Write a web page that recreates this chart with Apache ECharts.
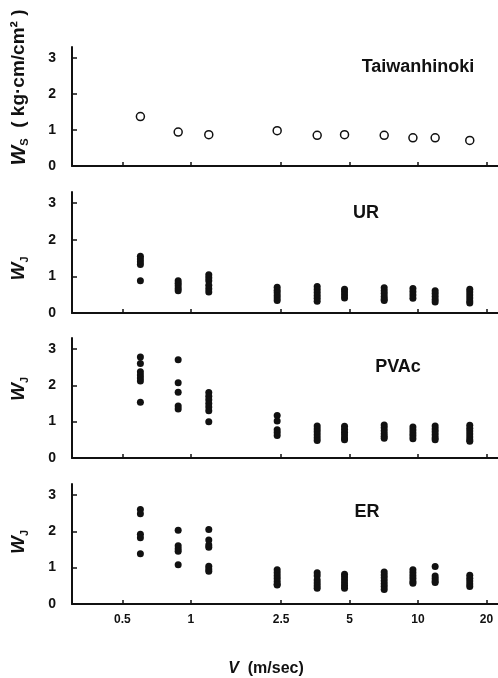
<!DOCTYPE html>
<html>
<head>
<meta charset="utf-8">
<script src="https://cdn.jsdelivr.net/npm/echarts@6/dist/echarts.min.js"></script>
<style>
  html, body { margin: 0; padding: 0; background: #fff; }
  #chart { width: 498px; height: 678px; }
</style>
</head>
<body>
<div id="chart"></div>
<script>
// speeds (m/sec)
const speeds = [0.6, 0.88, 1.2, 2.4, 3.6, 4.75, 7.1, 9.5, 11.9, 16.9];
const xTicks = [0.5, 1, 2.5, 5, 10, 20];
const yTicks = [0, 1, 2, 3];

// Taiwanhinoki, Ws (one point per speed)
const wsTaiwan = [1.37, 0.94, 0.87, 0.98, 0.85, 0.87, 0.85, 0.78, 0.78, 0.71];

// WJ, several specimens per speed
const wjUR = [
  [1.55, 1.47, 1.40, 1.32, 0.88],
  [0.88, 0.81, 0.74, 0.67, 0.61],
  [1.04, 0.96, 0.88, 0.76, 0.66, 0.57],
  [0.70, 0.62, 0.55, 0.48, 0.41, 0.34],
  [0.72, 0.64, 0.56, 0.48, 0.40, 0.32],
  [0.65, 0.57, 0.49, 0.41],
  [0.69, 0.61, 0.53, 0.45, 0.38, 0.34],
  [0.67, 0.58, 0.49, 0.40],
  [0.61, 0.53, 0.45, 0.37, 0.30],
  [0.65, 0.57, 0.49, 0.41, 0.33, 0.27]
];
const wjPVAc = [
  [2.78, 2.60, 2.37, 2.28, 2.20, 2.12, 1.53],
  [2.70, 2.07, 1.81, 1.43, 1.35],
  [1.80, 1.70, 1.60, 1.50, 1.40, 1.30, 1.00],
  [1.17, 1.02, 0.78, 0.70, 0.62],
  [0.88, 0.80, 0.72, 0.64, 0.56, 0.48],
  [0.87, 0.79, 0.71, 0.63, 0.55, 0.50],
  [0.91, 0.83, 0.75, 0.67, 0.60, 0.54],
  [0.85, 0.77, 0.69, 0.61, 0.53],
  [0.88, 0.80, 0.72, 0.64, 0.56, 0.50],
  [0.90, 0.82, 0.74, 0.66, 0.58, 0.50, 0.46]
];
const wjER = [
  [2.60, 2.48, 1.92, 1.82, 1.38],
  [2.03, 1.60, 1.52, 1.45, 1.08],
  [2.05, 1.76, 1.62, 1.56, 1.04, 0.96, 0.90],
  [0.94, 0.86, 0.78, 0.70, 0.62, 0.54, 0.52],
  [0.86, 0.78, 0.66, 0.58, 0.50, 0.43],
  [0.82, 0.74, 0.66, 0.58, 0.50, 0.43],
  [0.88, 0.80, 0.72, 0.64, 0.56, 0.48, 0.40],
  [0.94, 0.86, 0.78, 0.70, 0.62, 0.57],
  [1.03, 0.77, 0.70, 0.63, 0.59],
  [0.79, 0.71, 0.63, 0.55, 0.48]
];

const panelNames = ['Taiwanhinoki', 'UR', 'PVAc', 'ER'];

const FONT = 'Liberation Sans';
const ink = '#111';

function toPairs(groups) {
  const out = [];
  groups.forEach((vals, i) => vals.forEach(v => out.push([speeds[i], v])));
  return out;
}

const grids = [
  { left: 72, right: 0, top: 47, height: 119 },
  { left: 72, right: 0, top: 192, height: 121 },
  { left: 72, right: 0, top: 338, height: 120 },
  { left: 72, right: 0, top: 484, height: 120 }
];

const xAxes = grids.map((g, i) => ({
  type: 'log',
  gridIndex: i,
  min: 0.3,
  max: 22.5,
  logBase: 10,
  axisLine: { lineStyle: { color: ink, width: 2 } },
  axisTick: { show: true, inside: true, length: 4, customValues: xTicks, lineStyle: { color: ink, width: 1.5 } },
  minorTick: { show: false },
  splitLine: { show: false },
  axisLabel: {
    show: i === 3,
    customValues: xTicks,
    formatter: v => String(v),
    color: ink, fontFamily: FONT, fontWeight: 'bold', fontSize: 12, margin: 10
  },
  name: i === 3 ? '{i|V}  (m/sec)' : '',
  nameLocation: 'middle',
  nameGap: 57,
  nameTextStyle: {
    color: ink, fontFamily: FONT, fontWeight: 'bold', fontSize: 16, padding: [0, 38, 0, 0],
    rich: { i: { fontStyle: 'italic', fontFamily: FONT, fontWeight: 'bold', fontSize: 16, color: ink } }
  }
}));

const yNames = [
  '{w|W}{s|S}  ( kg·cm/cm² )',
  '{w|W}{s|J}',
  '{w|W}{s|J}',
  '{w|W}{s|J}'
];
const yNamePad = [[0, 0, 0, 38], [0, 32, 0, 0], [0, 0, 0, 18], [0, 0, 0, 4]];
const yNameSize = [19, 16, 16, 16];

const yAxes = grids.map((g, i) => ({
  type: 'value',
  gridIndex: i,
  min: 0,
  max: 3.3,
  axisLine: { show: true, lineStyle: { color: ink, width: 2 } },
  axisTick: { show: true, inside: true, length: 5, customValues: yTicks, lineStyle: { color: ink, width: 1.5 } },
  splitLine: { show: false },
  axisLabel: {
    customValues: yTicks,
    color: ink, fontFamily: FONT, fontWeight: 'bold', fontSize: 14, margin: 16
  },
  name: yNames[i],
  nameLocation: 'middle',
  nameRotate: 90,
  nameGap: 42,
  nameTextStyle: {
    color: ink, fontFamily: FONT, fontWeight: 'bold', fontSize: yNameSize[i], padding: yNamePad[i],
    rich: {
      w: { fontStyle: 'italic', fontFamily: FONT, fontWeight: 'bold', fontSize: i === 0 ? 21 : 19, color: ink, lineHeight: 22 },
      s: { fontFamily: FONT, fontWeight: 'bold', fontSize: 11, color: ink, verticalAlign: 'bottom', lineHeight: 22, padding: [7, 0, 0, 0] }
    }
  }
}));

const series = [
  {
    type: 'scatter', xAxisIndex: 0, yAxisIndex: 0,
    symbol: 'circle', symbolSize: 8,
    itemStyle: { color: '#fff', borderColor: ink, borderWidth: 1.5, opacity: 1 },
    data: speeds.map((s, i) => [s, wsTaiwan[i]])
  },
  ...[wjUR, wjPVAc, wjER].map((g, k) => ({
    type: 'scatter', xAxisIndex: k + 1, yAxisIndex: k + 1,
    symbol: 'circle', symbolSize: 7,
    itemStyle: { color: ink, opacity: 1 },
    data: toPairs(g)
  }))
];

const labelPos = [[418, 67], [366, 213], [398, 367], [367, 512]];

const chart = echarts.init(document.getElementById('chart'), null, { renderer: 'canvas' });
chart.setOption({
  backgroundColor: '#fff',
  animation: false,
  grid: grids,
  xAxis: xAxes,
  yAxis: yAxes,
  series,
  graphic: panelNames.map((t, i) => ({
    type: 'text',
    x: labelPos[i][0],
    y: labelPos[i][1],
    style: {
      text: t,
      fill: ink,
      font: 'bold 18px "Liberation Sans"',
      textAlign: 'center',
      textVerticalAlign: 'middle'
    }
  }))
});
</script>
</body>
</html>
